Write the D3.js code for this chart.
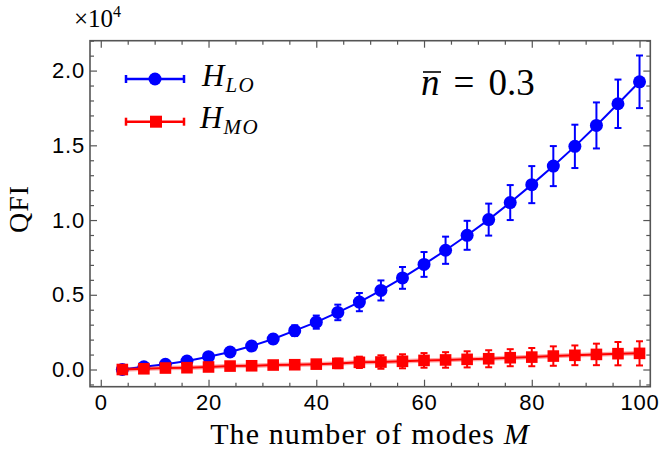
<!DOCTYPE html>
<html>
<head>
<meta charset="utf-8">
<script src="https://cdn.jsdelivr.net/npm/d3@7"></script>
<style>
  body { margin: 0; background: #fff; }
  svg { display: block; }
  .serif { font-family: "Liberation Serif", "Times New Roman", serif; }
</style>
</head>
<body>
<div id="chart"></div>
<script>
// number of modes M
var modes = [4, 8, 12, 16, 20, 24, 28, 32, 36, 40, 44, 48, 52, 56, 60, 64, 68, 72, 76, 80, 84, 88, 92, 96, 100];

// H_LO series (QFI) and its error
var qfiLO = [0, 180, 350, 570, 860, 1170, 1570, 2040, 2600, 3170, 3820, 4510, 5290, 6130, 7030, 7980, 8980, 10030, 11170, 12370, 13610, 14930, 16330, 17780, 19250];
var errLO = [20, 40, 70, 100, 140, 180, 230, 290, 360, 440, 520, 610, 670, 730, 830, 910, 970, 1070, 1170, 1240, 1340, 1450, 1540, 1620, 1760];

// H_MO series (QFI) and its error
var qfiMO = [0, 50, 100, 120, 170, 230, 250, 300, 320, 360, 410, 480, 500, 550, 610, 640, 680, 720, 790, 830, 900, 950, 1010, 1060, 1080];
var errMO = [10, 20, 40, 60, 80, 100, 130, 160, 200, 250, 320, 380, 450, 470, 490, 520, 540, 570, 570, 610, 650, 660, 720, 780, 810];

var xMajor = [0, 20, 40, 60, 80, 100];
var yMajor = [0, 5000, 10000, 15000, 20000];

var W = 662, H = 458;
var pLeft = 90, pRight = 650.3, pTop = 40.7, pBottom = 386.7;

var svg = d3.select("#chart").append("svg")
    .attr("width", W)
    .attr("height", H);

var xScale = d3.scaleLinear().domain([-2, 102]).range([pLeft, pRight]);
var yScale = d3.scaleLinear().domain([-1150, 22000]).range([pBottom, pTop]);

var xMinor = d3.range(0, 101, 5).filter(function(d){ return xMajor.indexOf(d) < 0; });
var yMinor = d3.range(-1000, 22001, 1000).filter(function(d){ return yMajor.indexOf(d) < 0; });

var axisColor = "#555";

function styleAxis(g) {
    g.select(".domain").remove();
    g.selectAll(".tick line").attr("stroke", axisColor).attr("stroke-width", 1.2);
    g.selectAll(".tick text")
        .attr("font-family", "'Liberation Sans', Arial, sans-serif")
        .attr("font-size", 22)
        .attr("letter-spacing", 0.8)
        .attr("fill", "#000");
}

// major + minor ticks on all four sides, pointing inward
var sides = [
    {axis: d3.axisBottom, pos: "translate(0," + pBottom + ")", scale: xScale, major: xMajor, minor: xMinor, labels: true},
    {axis: d3.axisTop, pos: "translate(0," + pTop + ")", scale: xScale, major: xMajor, minor: xMinor, labels: false},
    {axis: d3.axisLeft, pos: "translate(" + pLeft + ",0)", scale: yScale, major: yMajor, minor: yMinor, labels: true},
    {axis: d3.axisRight, pos: "translate(" + pRight + ",0)", scale: yScale, major: yMajor, minor: yMinor, labels: false}
];

sides.forEach(function(s) {
    var isX = s.scale === xScale;
    var fmt = isX ? function(d){ return d; } : function(d){ return (d / 10000).toFixed(1); };
    svg.append("g")
        .attr("transform", s.pos)
        .call(s.axis(s.scale).tickValues(s.minor).tickSize(-4).tickFormat(""))
        .call(styleAxis);
    svg.append("g")
        .attr("transform", s.pos)
        .call(s.axis(s.scale).tickValues(s.major).tickSize(-7).tickPadding(isX ? 8 : 5)
            .tickFormat(s.labels ? fmt : ""))
        .call(styleAxis);
});

// frame
svg.append("rect")
    .attr("x", pLeft).attr("y", pTop)
    .attr("width", pRight - pLeft).attr("height", pBottom - pTop)
    .attr("fill", "none")
    .attr("stroke", axisColor)
    .attr("stroke-width", 1.6);

var line = d3.line()
    .x(function(d){ return xScale(d[0]); })
    .y(function(d){ return yScale(d[1]); });

function drawSeries(vals, errs, color, shape) {
    var pts = modes.map(function(m, i){ return [m, vals[i], errs[i]]; });
    var g = svg.append("g");

    if (shape === "square") {
        g.append("path").datum(pts)
            .attr("d", line)
            .attr("fill", "none")
            .attr("stroke", color)
            .attr("stroke-opacity", 0.35)
            .attr("stroke-width", 4.5);
    }
    g.append("path").datum(pts)
        .attr("d", line)
        .attr("fill", "none")
        .attr("stroke", color)
        .attr("stroke-width", 2);

    // error bars
    var eb = g.selectAll("g.err").data(pts).enter().append("g").attr("class", "err");
    eb.append("line")
        .attr("x1", function(d){ return xScale(d[0]); })
        .attr("x2", function(d){ return xScale(d[0]); })
        .attr("y1", function(d){ return yScale(d[1] - d[2]); })
        .attr("y2", function(d){ return yScale(d[1] + d[2]); })
        .attr("stroke", color).attr("stroke-width", 2);
    [-1, 1].forEach(function(sgn) {
        eb.append("line")
            .attr("x1", function(d){ return xScale(d[0]) - 3.5; })
            .attr("x2", function(d){ return xScale(d[0]) + 3.5; })
            .attr("y1", function(d){ return yScale(d[1] + sgn * d[2]); })
            .attr("y2", function(d){ return yScale(d[1] + sgn * d[2]); })
            .attr("stroke", color).attr("stroke-width", 2);
    });

    if (shape === "circle") {
        g.selectAll("circle").data(pts).enter().append("circle")
            .attr("cx", function(d){ return xScale(d[0]); })
            .attr("cy", function(d){ return yScale(d[1]); })
            .attr("r", 6.5)
            .attr("fill", color);
    } else {
        g.selectAll("rect").data(pts).enter().append("rect")
            .attr("x", function(d){ return xScale(d[0]) - 5.8; })
            .attr("y", function(d){ return yScale(d[1]) - 5.8; })
            .attr("width", 11.6).attr("height", 11.6)
            .attr("fill", color);
    }
}

drawSeries(qfiLO, errLO, "#0000ff", "circle");
drawSeries(qfiMO, errMO, "#ff0000", "square");

// legend
function legendItem(y, color, shape, sub, tx) {
    var g = svg.append("g");
    g.append("line").attr("x1", 126).attr("x2", 184).attr("y1", y).attr("y2", y)
        .attr("stroke", color).attr("stroke-width", 2.5);
    [126, 184].forEach(function(x) {
        g.append("line").attr("x1", x).attr("x2", x).attr("y1", y - 4).attr("y2", y + 4)
            .attr("stroke", color).attr("stroke-width", 2.5);
    });
    if (shape === "circle") {
        g.append("circle").attr("cx", 155).attr("cy", y).attr("r", 6.5).attr("fill", color);
    } else {
        g.append("rect").attr("x", 150).attr("y", y - 6).attr("width", 12).attr("height", 12).attr("fill", color);
    }
    var t = g.append("text").attr("class", "serif")
        .attr("x", tx).attr("y", y + 6.5)
        .attr("font-style", "italic")
        .attr("font-size", 31);
    t.append("tspan").text("H");
    t.append("tspan").attr("font-size", 21).attr("dy", 6).attr("dx", 1)
        .attr("letter-spacing", 1.5).text(sub);
}
legendItem(79, "#0000ff", "circle", "LO", 202);
legendItem(121.7, "#ff0000", "square", "MO", 200);

// annotation n-bar = 0.3
var ann = svg.append("text").attr("class", "serif")
    .attr("x", 421).attr("y", 95)
    .attr("font-size", 37);
ann.append("tspan").attr("font-style", "italic").text("n");
ann.append("tspan").attr("dx", 14).text("=");
ann.append("tspan").attr("dx", 14).text("0.3");
// bar over n
svg.append("line")
    .attr("x1", 423).attr("x2", 441)
    .attr("y1", 72).attr("y2", 72)
    .attr("stroke", "#000").attr("stroke-width", 1.6);

// x10^4 multiplier
var mult = svg.append("text").attr("class", "serif")
    .attr("x", 74).attr("y", 27)
    .attr("font-size", 25);
mult.append("tspan").text("\u00d710");
mult.append("tspan").attr("font-size", 16).attr("dy", -10).text("4");

// axis titles
svg.append("text").attr("class", "serif")
    .attr("text-anchor", "middle")
    .attr("transform", "translate(28,209)rotate(-90)")
    .attr("font-size", 28)
    .attr("letter-spacing", 1)
    .text("QFI");

var xt = svg.append("text").attr("class", "serif")
    .attr("text-anchor", "middle")
    .attr("x", 370).attr("y", 444)
    .attr("font-size", 30)
    .attr("letter-spacing", 1.1);
xt.append("tspan").text("The number of modes ");
xt.append("tspan").attr("font-style", "italic").text("M");
</script>
</body>
</html>
